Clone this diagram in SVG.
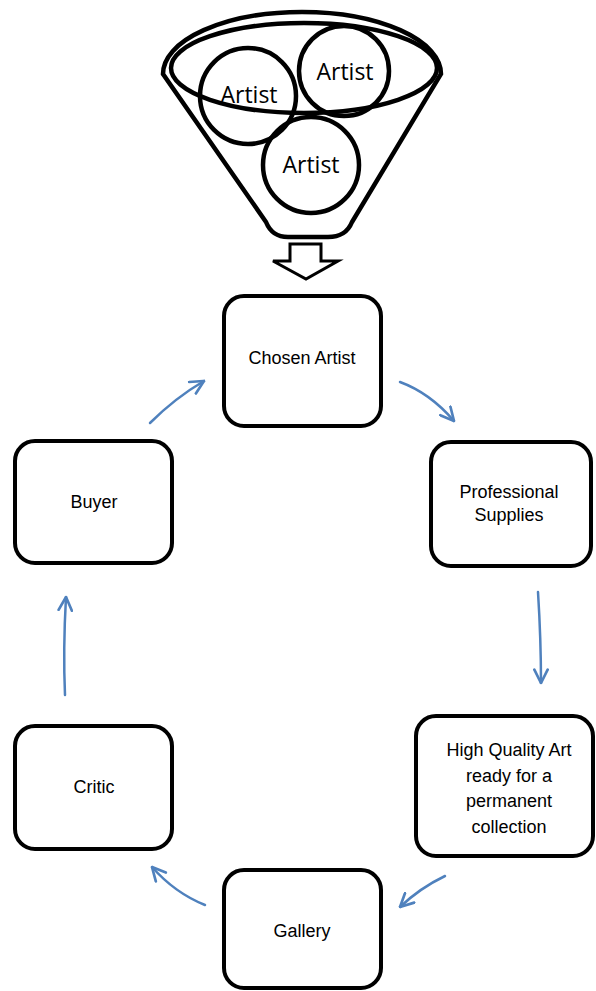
<svg xmlns="http://www.w3.org/2000/svg" width="596" height="991" viewBox="0 0 596 991">
<style>
.box{fill:#fff;stroke:#000;stroke-width:4}
.lbl{font-family:"Liberation Sans",Arial,sans-serif;font-size:18px;fill:#000;text-anchor:middle}
.art{font-family:"Open Sans",sans-serif;font-size:23px;fill:#000;text-anchor:middle}
.fun{fill:none;stroke:#000;stroke-width:4.5}
.con{fill:none;stroke:#4f81bd;stroke-width:2.5;stroke-linecap:round}
</style>
<defs>
<marker id="ah" viewBox="0 0 12 12" refX="11" refY="6" markerWidth="16" markerHeight="16" markerUnits="userSpaceOnUse" orient="auto">
<path d="M1,1 L11,6 L1,11" fill="none" stroke="#4f81bd" stroke-width="2" stroke-linecap="round"/>
</marker>
</defs>
<rect width="596" height="991" fill="#fff"/>
<g id="funnel">
<path class="fun" d="M163,74 A139,62 0 0 1 441,74 L352,222 Q346,237 328,237 L288,237 Q272,237 266,222 Z"/>
<ellipse class="fun" cx="304" cy="68" rx="133" ry="45"/>
<circle class="fun" cx="248" cy="96" r="48"/>
<circle class="fun" cx="344" cy="71" r="45"/>
<circle class="fun" cx="311" cy="165" r="48"/>
<text class="art" x="249" y="103">Artist</text>
<text class="art" x="345" y="80">Artist</text>
<text class="art" x="311" y="173">Artist</text>
</g>
<g id="down-arrow">
<polygon points="290,244 321,244 321,261 338,261 306,279 273,261 290,261" fill="#fff" stroke="#000" stroke-width="3" stroke-linejoin="miter"/>
</g>
<g id="chosen-artist">
<rect class="box" x="224" y="296" width="157" height="130" rx="20"/>
<text class="lbl" x="302" y="364">Chosen Artist</text>
</g>
<g id="professional-supplies">
<rect class="box" x="431" y="442" width="160" height="124" rx="20"/>
<text class="lbl" x="509" y="498">Professional</text>
<text class="lbl" x="509" y="521">Supplies</text>
</g>
<g id="high-quality-art">
<rect class="box" x="416" y="716" width="177" height="140" rx="20"/>
<text class="lbl" x="509" y="756">High Quality Art</text>
<text class="lbl" x="509" y="782">ready for a</text>
<text class="lbl" x="509" y="807">permanent</text>
<text class="lbl" x="509" y="833">collection</text>
</g>
<g id="gallery">
<rect class="box" x="224" y="870" width="157" height="118" rx="20"/>
<text class="lbl" x="302" y="937">Gallery</text>
</g>
<g id="critic">
<rect class="box" x="15" y="726" width="157" height="123" rx="20"/>
<text class="lbl" x="94" y="793">Critic</text>
</g>
<g id="buyer">
<rect class="box" x="15" y="441" width="157" height="122" rx="20"/>
<text class="lbl" x="94" y="508">Buyer</text>
</g>
<g id="connectors">
<path class="con" marker-end="url(#ah)" d="M400,382 Q430,393 454,421"/>
<path class="con" marker-end="url(#ah)" d="M538,592 Q541,640 541,683"/>
<path class="con" marker-end="url(#ah)" d="M445,876 Q420,888 400,907"/>
<path class="con" marker-end="url(#ah)" d="M205,905 Q175,893 152,867"/>
<path class="con" marker-end="url(#ah)" d="M65,695 Q63,650 66,597"/>
<path class="con" marker-end="url(#ah)" d="M150,423 Q175,398 204,381"/>
</g>
</svg>
